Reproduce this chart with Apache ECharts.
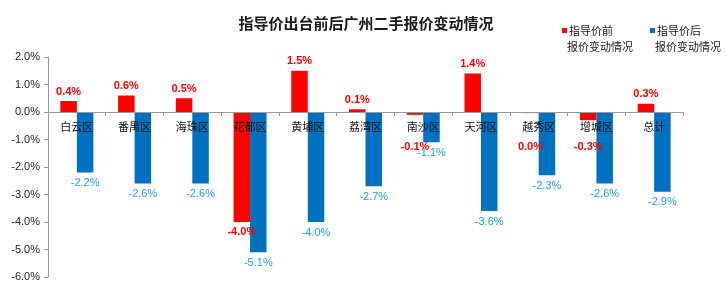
<!DOCTYPE html>
<html><head><meta charset="utf-8">
<script src="https://cdn.jsdelivr.net/npm/echarts@6/dist/echarts.min.js"></script>
<style>html,body{margin:0;padding:0;background:#fff}#c{width:727px;height:298px}</style>
</head><body><div id="c"></div>
<script>
var titleText = '指导价出台前后广州二手报价变动情况';
var categories = ['白云区','番禺区','海珠区','花都区','黄埔区','荔湾区','南沙区','天河区','越秀区','增城区','总计'];
var seriesNames = ['指导价前','指导价后'];
var legendSub = '报价变动情况';
var before = [0.4, 0.6, 0.5, -4.0, 1.5, 0.1, -0.1, 1.4, -0.04, -0.3, 0.3];
var after = [-2.2, -2.6, -2.6, -5.1, -4.0, -2.7, -1.1, -3.6, -2.3, -2.6, -2.9];
var yTicks = [-6, -5, -4, -3, -2, -1, 0, 1, 2];

var FONT = '"Liberation Sans", Arial, "Noto Sans CJK SC", sans-serif';
var CJK = '"Noto Sans CJK SC", sans-serif';
var chart = echarts.init(document.getElementById('c'), null, {renderer:'canvas'});

var gridTop = 57, gridBottom = 21, H = 298;
var yMin = yTicks[0], yMax = yTicks[yTicks.length-1];
var pxPer = (H - gridTop - gridBottom) / (yMax - yMin);
var zeroY = gridTop + yMax * pxPer;
var bottomY = H - gridBottom;

function pct(v){ var s = v.toFixed(1); if (s === '-0.0') s = '0.0'; return s + '%'; }

var redData = before.map(function(v){
  var item = {value: v};
  if (v < 0) {
    var bottom = zeroY + (-v) * pxPer;
    var dist = 4;
    if (v > -1) dist = Math.max(4, 141 - bottom);
    item.label = {position: 'bottom', distance: dist};
  }
  return item;
});

chart.setOption({
  animation: false,
  textStyle: {fontFamily: FONT},
  title: {
    text: titleText, left: 361, textAlign: 'center', top: 11,
    textStyle: {fontSize: 15, fontWeight: 'bold', color: '#1a1a1a', fontFamily: CJK}
  },
  legend: [
    {data: [seriesNames[0]], top: 20, left: 557, itemWidth: 5, itemHeight: 5, icon: 'rect',
     textStyle: {fontSize: 11, color: '#222', fontFamily: CJK, padding: [0,0,0,-3]}},
    {data: [seriesNames[1]], top: 20, left: 645, itemWidth: 5, itemHeight: 5, icon: 'rect',
     textStyle: {fontSize: 11, color: '#222', fontFamily: CJK, padding: [0,0,0,-3]}}
  ],
  graphic: [
    {type:'text', left: 567, top: 41, style: {text: legendSub, fontSize: 11, fill: '#222', fontFamily: CJK}},
    {type:'text', left: 655, top: 41, style: {text: legendSub, fontSize: 11, fill: '#222', fontFamily: CJK}}
  ],
  grid: {left: 48, right: 44, top: gridTop, bottom: gridBottom},
  xAxis: {
    type: 'category', data: categories, position: 'bottom', z: 10,
    offset: -(bottomY - zeroY),
    axisLine: {onZero: false, lineStyle: {color: '#999', width: 1}},
    axisTick: {show: true, inside: false, length: 4, lineStyle: {color: '#999'}},
    axisLabel: {color: '#111', fontSize: 11, margin: 9, fontFamily: CJK}
  },
  yAxis: {
    type: 'value', min: yMin, max: yMax, interval: 1,
    axisLine: {show: true, lineStyle: {color: '#999'}},
    axisTick: {show: true, length: 4, lineStyle: {color: '#999'}},
    splitLine: {show: false},
    axisLabel: {color: '#222', fontSize: 11, margin: 8, formatter: function(v){ return pct(v); }}
  },
  series: [
    {
      name: seriesNames[0], type: 'bar', data: redData, barWidth: 16.5, barGap: '0%',
      itemStyle: {color: '#FF0000'},
      label: {show: true, position: 'top', distance: 4, color: '#FF0000', fontWeight: 'bold', fontSize: 11,
        formatter: function(p){ return pct(p.value); }}
    },
    {
      name: seriesNames[1], type: 'bar', data: after, barWidth: 16.5, barGap: '0%',
      itemStyle: {color: '#0070C0'},
      label: {show: true, position: 'bottom', distance: 5, color: '#1E9FE3', fontSize: 11,
        formatter: function(p){ return pct(p.value); }}
    }
  ]
});
</script></body></html>
